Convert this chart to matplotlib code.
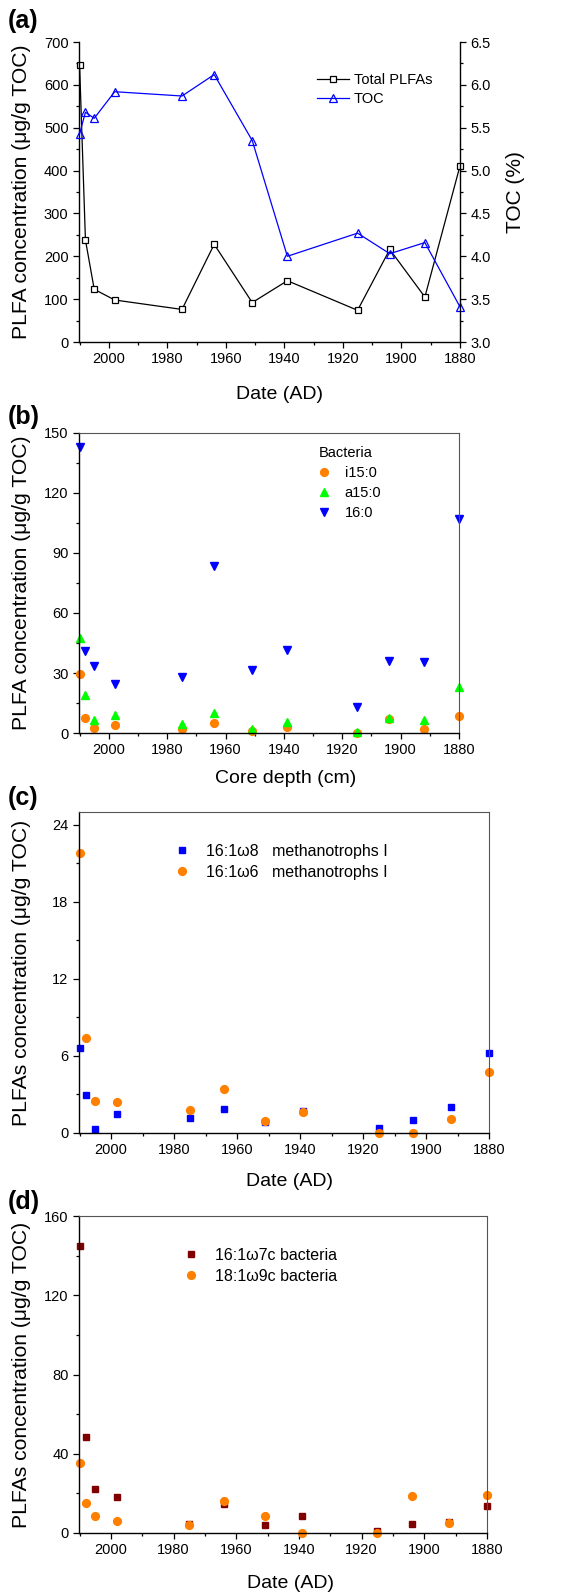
import matplotlib
matplotlib.use("Agg")
import matplotlib.pyplot as plt
from matplotlib.ticker import MultipleLocator, FormatStrFormatter

plt.rcParams['font.family'] = ['Liberation Sans', 'DejaVu Sans']
plt.rcParams['xtick.direction'] = 'out'
plt.rcParams['ytick.direction'] = 'out'

# sample dates (AD)
dates = [2010, 2008, 2005, 1998, 1975, 1964, 1951, 1939, 1915, 1904, 1892, 1880]

# (a)
total_plfa = [647, 238, 123, 98, 76, 228, 92, 143, 74, 216, 105, 411]
toc = [5.43, 5.68, 5.61, 5.92, 5.87, 6.12, 5.35, 4.00, 4.27, 4.03, 4.16, 3.41]

# (b)
i15_0 = [29.5, 7.7, 2.7, 4.0, 2.0, 4.8, 0.8, 3.2, 0.0, 7.2, 2.2, 8.5]
a15_0 = [47.3, 18.8, 6.7, 9.0, 4.3, 10.2, 2.0, 5.5, 0.3, 7.5, 6.5, 23.1]
c16_0 = [143.0, 41.1, 33.6, 24.3, 28.1, 83.7, 31.3, 41.5, 13.2, 36.1, 35.6, 106.9]

# (c)
w8 = [6.64, 2.93, 0.31, 1.48, 1.19, 1.89, 0.88, 1.71, 0.36, 0.98, 2.0, 6.22]
w6 = [21.8, 7.41, 2.46, 2.41, 1.81, 3.42, 0.96, 1.63, 0.0, 0.0, 1.06, 4.72]

# (d)
w7c = [144.7, 48.4, 22.2, 18.0, 4.4, 14.8, 4.0, 8.6, 1.0, 4.5, 5.5, 13.6]
w9c = [35.5, 15.3, 8.4, 6.2, 4.0, 16.1, 8.4, 0.0, 0.0, 18.7, 5.0, 19.3]

W, H = 561, 1592
fig = plt.figure(figsize=(W / 100, H / 100), dpi=100)

ORANGE = '#ff8000'
GREEN = '#00ff00'
BLUE = '#0000ff'
DARKRED = '#800000'
FRAME = '#555555'


def px_axes(left, top, right, bottom):
    ax = fig.add_axes([left / W, 1 - bottom / H, (right - left) / W, (bottom - top) / H])
    ax._px = (left, right)
    return ax


def fpos(x, y):
    return (x / W, 1 - y / H)


def style(ax, ymax, ystep, xlabel, ylabel, panel, ptop, xlab_cx, xpad,
          right_spine=True, top_spine=True):
    left, right = ax._px
    ax.set_xlim(2010.2, 1880)
    ax.set_ylim(0, ymax)
    ax.xaxis.set_major_locator(MultipleLocator(20))
    ax.xaxis.set_minor_locator(MultipleLocator(10))
    ax.yaxis.set_major_locator(MultipleLocator(ystep))
    ax.yaxis.set_minor_locator(MultipleLocator(ystep / 2))
    ax.tick_params(which='major', length=4, width=0.9, labelsize=10.5)
    ax.tick_params(which='minor', length=2.3, width=0.9)
    ax.spines['top'].set_visible(top_spine)
    ax.spines['right'].set_visible(right_spine)
    ax.spines['left'].set_linewidth(1.0)
    ax.spines['bottom'].set_linewidth(1.0)
    ax.spines['top'].set_linewidth(0.8)
    ax.spines['right'].set_linewidth(0.8)
    ax.spines['top'].set_color(FRAME)
    ax.spines['right'].set_color(FRAME)
    ax.set_xlabel(xlabel, fontsize=14, labelpad=xpad)
    ax.xaxis.label.set_x((xlab_cx - left) / (right - left))
    ax.set_ylabel(ylabel, fontsize=15.2)
    ax.yaxis.set_label_coords((31 - left) / (right - left), 0.5)
    for ln in ax.lines:
        ln.set_clip_on(False)
    fig.text(*fpos(8, ptop), panel, fontsize=18, fontweight='bold', va='center', ha='left')


# ---- (a)
ax = px_axes(79, 42, 460, 342)
ax.plot(dates, total_plfa, color='black', lw=0.9, marker='s', ms=4.2, mfc='white',
        mec='black', mew=0.9, label='Total PLFAs')
ax2 = ax.twinx()
ax2.plot(dates, toc, color=BLUE, lw=0.9, marker='^', ms=5.5, mfc='none',
         mec=BLUE, mew=0.9, label='TOC', clip_on=False)
style(ax, 700, 100, 'Date (AD)', 'PLFA concentration (μg/g TOC)', '(a)', 21,
      279, 14, right_spine=False, top_spine=False)
ax2.set_ylim(3.0, 6.5)
ax2.yaxis.set_major_locator(MultipleLocator(0.5))
ax2.yaxis.set_minor_locator(MultipleLocator(0.25))
ax2.yaxis.set_major_formatter(FormatStrFormatter('%.1f'))
ax2.tick_params(which='major', length=4, width=0.9, labelsize=10.5)
ax2.tick_params(which='minor', length=2.3, width=0.9)
ax2.spines['top'].set_visible(False)
ax2.spines['left'].set_visible(False)
ax2.spines['bottom'].set_visible(False)
ax2.spines['right'].set_linewidth(1.0)
ax2.set_ylabel('TOC (%)', fontsize=15, labelpad=11)
h1, l1 = ax.get_legend_handles_labels()
h2, l2 = ax2.get_legend_handles_labels()
ax2.legend(h1 + h2, l1 + l2, loc='upper left', bbox_to_anchor=fpos(310, 66),
           bbox_transform=fig.transFigure, frameon=False, fontsize=10.5,
           handlelength=2.2, handletextpad=0.3, labelspacing=0.3, borderpad=0)

# ---- (b)
ax = px_axes(79, 433, 459, 733)
ax.plot(dates, i15_0, ls='none', marker='o', ms=5.6, color=ORANGE, label='i15:0')
ax.plot(dates, a15_0, ls='none', marker='^', ms=6.3, color=GREEN, label='a15:0')
ax.plot(dates, c16_0, ls='none', marker='v', ms=6.3, color=BLUE, label='16:0')
style(ax, 150, 30, 'Core depth (cm)', 'PLFA concentration (μg/g TOC)', '(b)', 417,
      286, 9)
ax.legend(title='Bacteria', loc='upper left', bbox_to_anchor=fpos(311, 439),
          bbox_transform=fig.transFigure, frameon=False, fontsize=10.5,
          title_fontsize=10.5, handlelength=0.8, handletextpad=1.0,
          labelspacing=0.4, borderpad=0, alignment='left')

# ---- (c)
ax = px_axes(79, 812, 489, 1133)
ax.plot(dates, w8, ls='none', marker='s', ms=5, color=BLUE,
        label='16:1ω8   methanotrophs I')
ax.plot(dates, w6, ls='none', marker='o', ms=5.6, color=ORANGE,
        label='16:1ω6   methanotrophs I')
style(ax, 25.0, 6, 'Date (AD)', 'PLFAs concentration (μg/g TOC)', '(c)', 798,
      289, 11)
ax.legend(loc='upper left', bbox_to_anchor=fpos(166, 836),
          bbox_transform=fig.transFigure, frameon=False, fontsize=11.5,
          handlelength=1.0, handletextpad=1.0, labelspacing=0.35, borderpad=0)

# ---- (d)
ax = px_axes(79, 1216, 487, 1533)
ax.plot(dates, w7c, ls='none', marker='s', ms=5, color=DARKRED,
        label='16:1ω7c bacteria')
ax.plot(dates, w9c, ls='none', marker='o', ms=5.6, color=ORANGE,
        label='18:1ω9c bacteria')
style(ax, 160, 40, 'Date (AD)', 'PLFAs concentration (μg/g TOC)', '(d)', 1202,
      290, 13)
ax.legend(loc='upper left', bbox_to_anchor=fpos(175, 1240),
          bbox_transform=fig.transFigure, frameon=False, fontsize=11.5,
          handlelength=1.0, handletextpad=1.0, labelspacing=0.35, borderpad=0)

fig.savefig('out.png', dpi=100)
